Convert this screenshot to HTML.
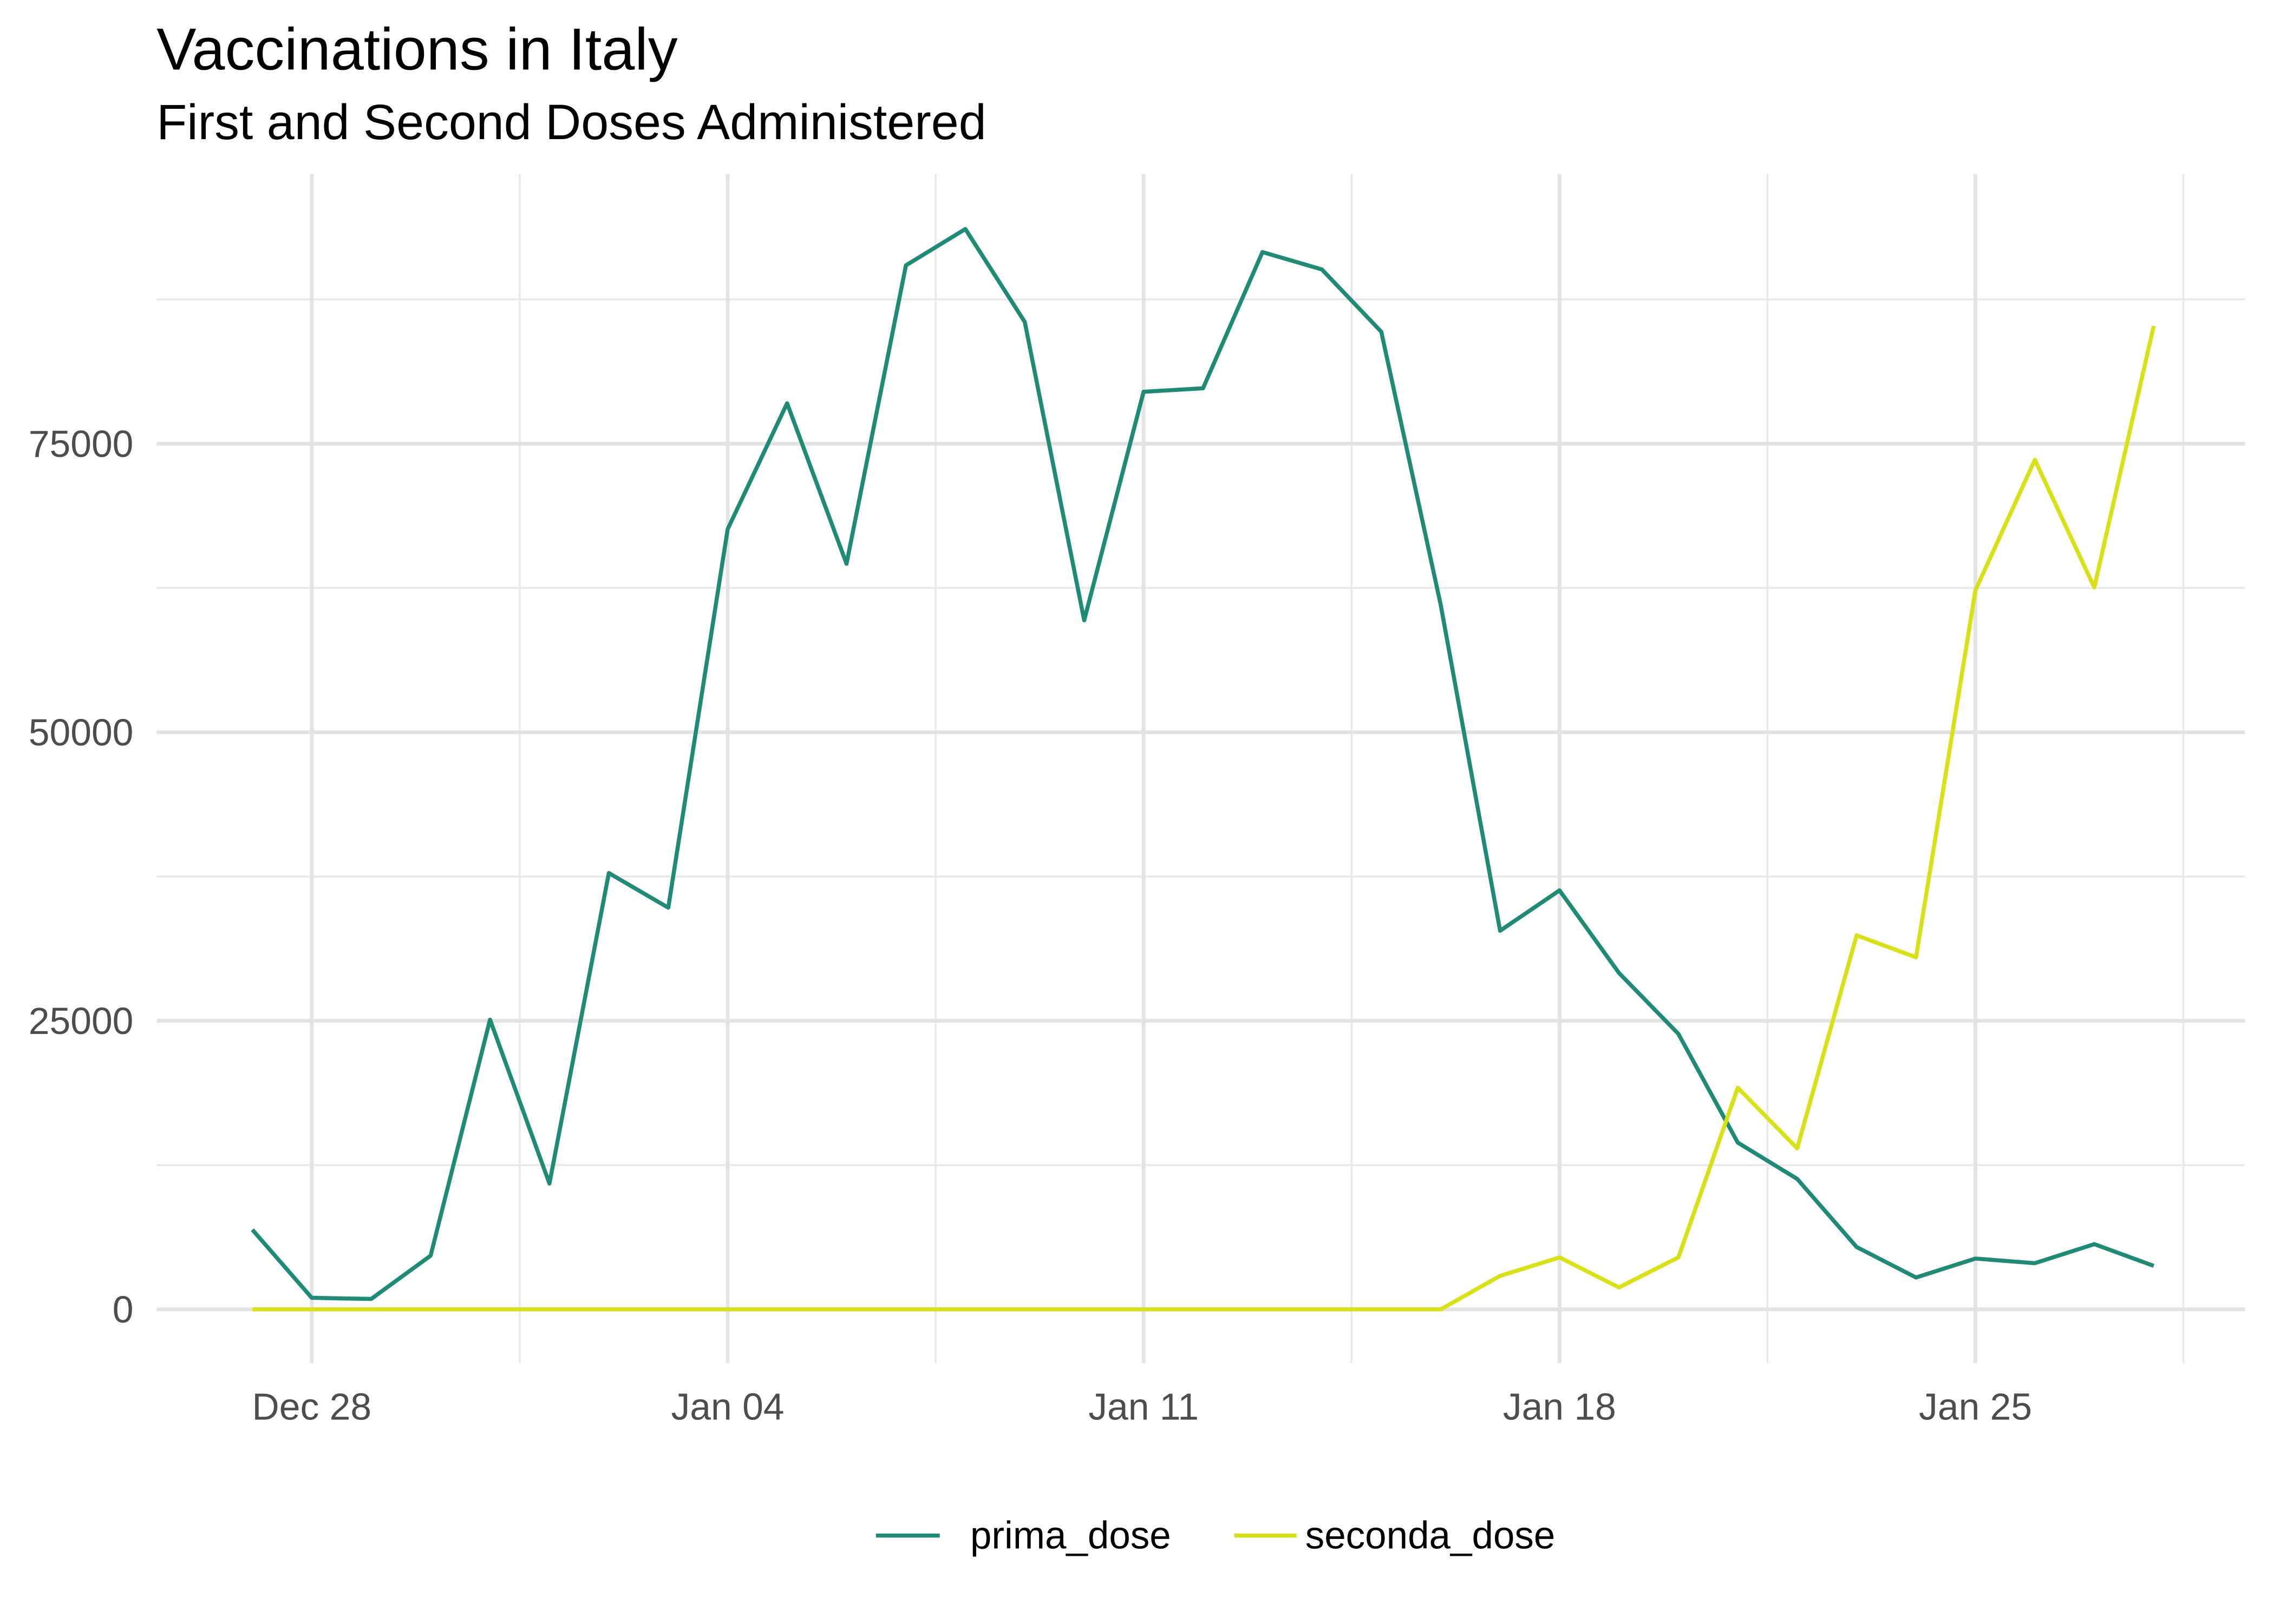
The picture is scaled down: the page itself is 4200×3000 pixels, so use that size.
<!DOCTYPE html>
<html><head><meta charset="utf-8"><style>
html,body{margin:0;padding:0;background:#fff;}
svg{display:block;font-family:"Liberation Sans",Arial,sans-serif;}
</style></head><body>
<svg id="chart" width="4200" height="3000" viewBox="0 0 1568 1120" xmlns="http://www.w3.org/2000/svg">
<rect width="1568" height="1120" fill="#fff"/>
<text x="108" y="48" font-size="41" fill="#000">Vaccinations in Italy</text>
<text x="108" y="96" font-size="34.2" fill="#000">First and Second Doses Administered</text>
<g id="grid"></g>
<g id="axes"></g>
<g id="lines"></g>
<g>
<line x1="604" y1="1059" x2="648" y2="1059" stroke="#1f8a76" stroke-width="2.8"/>
<text x="669" y="1068" font-size="26.5" fill="#000">prima_dose</text>
<line x1="851" y1="1059" x2="894" y2="1059" stroke="#d8e016" stroke-width="2.8"/>
<text x="900" y="1068" font-size="26.5" fill="#000">seconda_dose</text>
</g>
</svg>
<script>
const prima = [6900,1000,900,4650,25100,10900,37800,34800,67600,78500,64600,90450,93600,85550,59700,79500,79800,91600,90100,84700,61050,32800,36300,29150,23870,14450,11300,5400,2760,4400,4000,5650,3770];
const seconda = [0,0,0,0,0,0,0,0,0,0,0,0,0,0,0,0,0,0,0,0,0,2900,4500,1900,4500,19200,13950,32400,30500,62300,73600,62550,85200];
const xTickLabels = ["Dec 28","Jan 04","Jan 11","Jan 18","Jan 25"];
const xTickDays = [1,8,15,22,29];
const yTicks = [0,25000,50000,75000];

const NS="http://www.w3.org/2000/svg";
const xs = d => 174 + d*40.97;
const ys = v => 903 - v*(199/25000);
const pTop=120, pBottom=940, pLeft=108, pRight=1548;
function mk(tag, attrs, parent){const e=document.createElementNS(NS,tag);for(const k in attrs)e.setAttribute(k,attrs[k]);parent.appendChild(e);return e;}
const grid=document.getElementById('grid'), axes=document.getElementById('axes'), lines=document.getElementById('lines');
for(let i=0;i<yTicks.length;i++){
  const l=mk('line',{x1:pLeft,x2:pRight,y1:ys(yTicks[i]+12500),y2:ys(yTicks[i]+12500),stroke:'#e8e8e8','stroke-width':1.3},grid);
  
  
}
for(let i=0;i<xTickDays.length;i++){
  const x=xs(xTickDays[i]+3.5);
  const l=mk('line',{x1:x,x2:x,y1:pTop,y2:pBottom,stroke:'#e8e8e8','stroke-width':1.3},grid);
  
  
}
yTicks.forEach(v=>{
  const l=mk('line',{x1:pLeft,x2:pRight,y1:ys(v),y2:ys(v),stroke:'#e3e3e3','stroke-width':2.6},grid);
  
  
  const t=mk('text',{x:92,y:ys(v)+9,'text-anchor':'end','font-size':26,fill:'#4d4d4d'},axes);
  t.textContent=String(v);
  
  
});
xTickDays.forEach((d,i)=>{
  const x=xs(d);
  const l=mk('line',{x1:x,x2:x,y1:pTop,y2:pBottom,stroke:'#e3e3e3','stroke-width':2.6},grid);
  
  
  const t=mk('text',{x:x,y:979,'text-anchor':'middle','font-size':26,fill:'#4d4d4d'},axes);
  t.textContent=xTickLabels[i];
  
  
});
function drawLine(arr,color,name){
  const p=mk('polyline',{points:arr.map((v,i)=>xs(i)+','+ys(v)).join(' '),fill:'none',stroke:color,'stroke-width':2.8,'stroke-linejoin':'round'},lines);
  
  
}
drawLine(prima,'#1f8a76','prima-dose-line');
drawLine(seconda,'#d8e016','seconda-dose-line');
</script>
</body></html>
